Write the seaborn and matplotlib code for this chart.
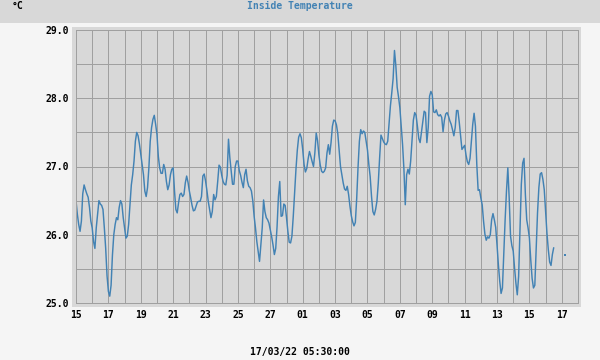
import numpy as np
import pandas as pd
import matplotlib
matplotlib.use("Agg")
import matplotlib.pyplot as plt
import matplotlib.dates as mdates
from matplotlib.patches import Rectangle
from matplotlib.ticker import FixedLocator, FuncFormatter
import seaborn as sns

# ---- data: inside temperature (°C), 2-hour samples from 2022-02-15 00:00 ----
start = "2022-02-15 00:00"
week1 = [26.5, 26.3, 26.15, 26.05, 26.2, 26.6, 26.73, 26.66, 26.6, 26.55,
         26.4, 26.2, 26.1, 25.9, 25.8, 26.1, 26.3, 26.5, 26.45, 26.43,
         26.37, 26.1, 25.8, 25.4, 25.17, 25.1, 25.26, 25.7, 26.0, 26.15,
         26.25, 26.22, 26.4, 26.5, 26.45, 26.25, 26.1, 25.95, 25.98, 26.15,
         26.45, 26.73, 26.88, 27.08, 27.37, 27.5, 27.45, 27.33, 27.18, 27.03,
         26.88, 26.64, 26.56, 26.69, 26.98, 27.37, 27.57, 27.69, 27.75, 27.62,
         27.47, 27.15, 26.98, 26.9, 26.9, 27.03, 26.96, 26.78, 26.66, 26.73,
         26.88, 26.96, 26.98, 26.64, 26.37]
week2 = [26.32, 26.47, 26.59, 26.61, 26.56, 26.59, 26.76, 26.86, 26.77, 26.64,
         26.54, 26.43, 26.35, 26.36, 26.42, 26.48, 26.49, 26.49, 26.56, 26.86,
         26.89, 26.79, 26.65, 26.49, 26.37, 26.25, 26.34, 26.59, 26.51, 26.56,
         26.78, 27.02, 26.99, 26.87, 26.78, 26.74, 26.73, 26.87, 27.40, 27.13,
         26.93, 26.74, 26.74, 27.00, 27.08, 27.08, 26.94, 26.87, 26.77, 26.69,
         26.88, 26.96, 26.79, 26.71, 26.69, 26.64, 26.50, 26.27, 26.10, 25.90,
         25.75, 25.61, 25.85, 26.10, 26.51, 26.34, 26.25, 26.22, 26.17, 26.07,
         25.97, 25.85, 25.71]
week3 = [25.80, 26.12, 26.56, 26.78, 26.27, 26.28, 26.45, 26.43, 26.25, 26.05,
         25.89, 25.88, 25.98, 26.27, 26.61, 26.96, 27.24, 27.43, 27.48, 27.42,
         27.25, 27.03, 26.92, 26.97, 27.11, 27.22, 27.15, 27.07, 27.00, 27.20,
         27.49, 27.38, 27.17, 27.02, 26.93, 26.91, 26.93, 26.98, 27.20, 27.32,
         27.18, 27.35, 27.59, 27.68, 27.67, 27.61, 27.48, 27.24, 27.00, 26.88,
         26.76, 26.67, 26.65, 26.71, 26.59, 26.42, 26.28, 26.19, 26.13, 26.18,
         26.53, 26.99, 27.37, 27.54, 27.48, 27.52, 27.50, 27.37, 27.24, 27.03,
         26.85, 26.56, 26.34, 26.29]
week4 = [26.37, 26.49, 26.76, 27.13, 27.46, 27.41, 27.36, 27.33, 27.32, 27.37,
         27.64, 27.89, 28.08, 28.29, 28.70, 28.48, 28.16, 28.02, 27.86, 27.59,
         27.32, 26.96, 26.44, 26.88, 26.96, 26.89, 27.08, 27.38, 27.68, 27.79,
         27.75, 27.59, 27.41, 27.35, 27.50, 27.64, 27.81, 27.79, 27.35, 27.57,
         28.03, 28.10, 28.05, 27.80, 27.79, 27.83, 27.76, 27.74, 27.76, 27.72,
         27.51, 27.68, 27.77, 27.79, 27.74, 27.67, 27.62, 27.54, 27.45, 27.57,
         27.82, 27.82, 27.65, 27.45, 27.25, 27.28, 27.31, 27.17, 27.07, 27.03,
         27.12, 27.37, 27.62, 27.78]
week5 = [27.59, 27.03, 26.65, 26.66, 26.54, 26.44, 26.20, 26.01, 25.92, 25.97,
         25.95, 26.00, 26.22, 26.31, 26.22, 26.11, 25.85, 25.56, 25.32, 25.14,
         25.22, 25.71, 26.22, 26.64, 26.98, 26.54, 25.98, 25.84, 25.76, 25.51,
         25.29, 25.12, 25.39, 26.07, 26.74, 27.05, 27.12, 26.59, 26.22, 26.10,
         25.95, 25.63, 25.36, 25.22, 25.26, 25.78, 26.32, 26.69, 26.89, 26.91,
         26.81, 26.66, 26.34, 26.02, 25.78, 25.60, 25.55, 25.71, 25.81]
gap = [np.nan] * 7
last = [25.70]

x_start, x_end = "2022-02-15", "2022-03-18"
y_min, y_max = 25.0, 29.0
title = "Inside Temperature"
unit_label = "°C"
footer = "17/03/22 05:30:00"

temps = week1 + week2 + week3 + week4 + week5 + gap + last
times = pd.date_range(start, periods=len(temps), freq="2h")

df = pd.DataFrame({"time": times, "temp": temps})
df["seg"] = df["temp"].isna().cumsum()
df = df.dropna()
seg_sizes = df.groupby("seg")["temp"].transform("size")

# ---- style ----
LINE = "#4282b4"
GRID = "#a0a0a0"
CHART_BG = "#d8d8d8"
IMG_BG = "#f5f5f5"
FONT = ["DejaVu Sans Mono"]
FS = 7.0
PX = 0.72  # one pixel in points at 100 dpi

sns.set_theme(style="white")
plt.rcParams["font.family"] = FONT
plt.rcParams["font.weight"] = "bold"

fig = plt.figure(figsize=(6, 3.6), dpi=100, facecolor=IMG_BG)
# top band
fig.patches.append(Rectangle((0, 1 - 22.5 / 360), 1, 22.5 / 360, transform=fig.transFigure,
                             facecolor=CHART_BG, edgecolor="none", zorder=-5))
# chart frame
fig.patches.append(Rectangle((72 / 600, 1 - 307 / 360), 509 / 600, 280 / 360,
                             transform=fig.transFigure, facecolor=CHART_BG,
                             edgecolor="none", zorder=-5))

ax = fig.add_axes([76 / 600, 1 - 303 / 360, 502 / 600, 273 / 360], zorder=2)
ax.set_facecolor(CHART_BG)

sns.lineplot(data=df[seg_sizes > 1], x="time", y="temp", units="seg", estimator=None,
             color=LINE, linewidth=PX * 1.45, ax=ax, legend=False)
single = df[seg_sizes == 1]
if len(single):
    sns.scatterplot(data=single, x="time", y="temp", color=LINE, marker="s", s=1.2,
                    linewidth=0, ax=ax, legend=False)

ax.set_xlim(pd.Timestamp(x_start), pd.Timestamp(x_end))
ax.set_ylim(y_min, y_max)

day_ticks = pd.date_range(x_start, x_end, freq="D")
label_ticks = pd.date_range(x_start, x_end, freq="2D")
ax.xaxis.set_major_locator(FixedLocator(mdates.date2num(label_ticks)))
ax.xaxis.set_minor_locator(FixedLocator(mdates.date2num(day_ticks)))
ax.xaxis.set_major_formatter(mdates.DateFormatter("%d"))

yt = np.arange(y_min, y_max + 0.01, 1.0)
ax.yaxis.set_major_locator(FixedLocator(yt))
ax.yaxis.set_minor_locator(FixedLocator(np.arange(y_min, y_max + 0.01, 0.5)))
ax.yaxis.set_major_formatter(FuncFormatter(lambda v, p: f"{v:.1f}"))

ax.grid(which="both", color=GRID, linewidth=PX)
ax.set_axisbelow(True)
for s in ax.spines.values():
    s.set_color(GRID)
    s.set_linewidth(PX)
ax.tick_params(which="both", length=0)
ax.tick_params(axis="y", pad=5, labelsize=FS, labelcolor="black")
ax.tick_params(axis="x", pad=5, labelsize=FS, labelcolor="black")
for lab in ax.get_xticklabels() + ax.get_yticklabels():
    lab.set_fontweight("bold")
ax.set_xlabel("")
ax.set_ylabel("")

fig.text(0.5, 1 - 6 / 360, title, ha="center", va="center", color=LINE,
         fontsize=FS, fontweight="bold", family=FONT)
fig.text(12 / 600, 1 - 6 / 360, unit_label, ha="left", va="center", color="black",
         fontsize=FS, fontweight="bold", family=FONT)
fig.text(0.5, 1 - 352 / 360, footer, ha="center", va="center", color="black",
         fontsize=FS, fontweight="bold", family=FONT)

fig.savefig("out.png", dpi=100, facecolor=IMG_BG)
